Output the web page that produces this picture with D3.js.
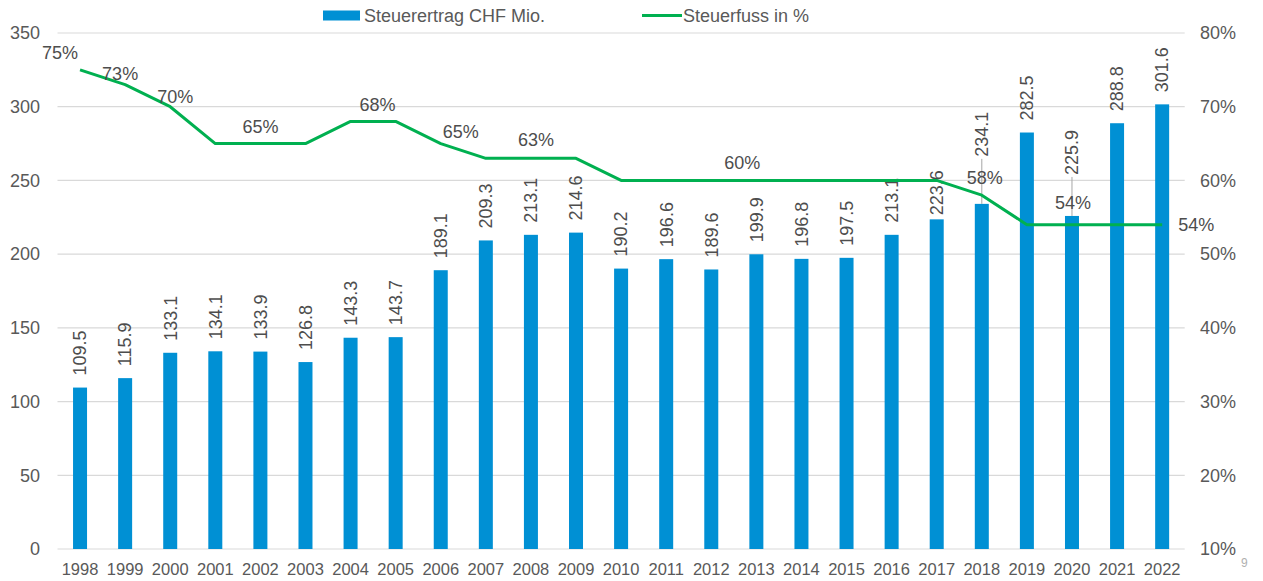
<!DOCTYPE html>
<html>
<head>
<meta charset="utf-8">
<script src="https://cdn.jsdelivr.net/npm/d3@7"></script>
<style>
  html, body { margin: 0; padding: 0; background: #fff; }
  svg { display: block; font-family: "Liberation Sans", Arial, sans-serif; }
</style>
</head>
<body>
<svg id="chart" width="1263" height="581"></svg>
<script>
// ---- data ----
const years = ["1998","1999","2000","2001","2002","2003","2004","2005","2006","2007","2008","2009","2010","2011","2012","2013","2014","2015","2016","2017","2018","2019","2020","2021","2022"];
const ertrag = [109.5,115.9,133.1,134.1,133.9,126.8,143.3,143.7,189.1,209.3,213.1,214.6,190.2,196.6,189.6,199.9,196.8,197.5,213.1,223.6,234.1,282.5,225.9,288.8,301.6];
const steuerfuss = [75,73,70,65,65,65,68,68,65,63,63,63,60,60,60,60,60,60,60,60,58,54,54,54,54];
const leftTicks = [0,50,100,150,200,250,300,350];
const rightTicks = [10,20,30,40,50,60,70,80];
const seriesNames = ["Steuerertrag CHF Mio.", "Steuerfuss in %"];
// which line points carry a label
const labeledYears = ["1998","1999","2000","2002","2004","2006","2008","2013","2018","2020","2022"];

// ---- style / placement ----
const blue = "#0090d4", green = "#00b050", textGrey = "#595959", labelGrey = "#4d4d4d", gridGrey = "#d9d9d9";
const lineLabelOffset = {
  "1998": [-20,-17], "1999": [-5,-11], "2000": [5,-10], "2002": [0,-17],
  "2004": [27,-17], "2006": [20,-12], "2008": [5,-19], "2013": [-14,-18],
  "2018": [3,-17], "2020": [1,-22], "2022": [34,0]
};
const barLabelGap = { "2017": 4, "2018": 47, "2020": 41 };
const leaderYears = ["2018","2020"];

const svg = d3.select("#chart");
const margin = { left: 57.5, right: 1184.7, top: 33, bottom: 549 };

const x = d3.scaleBand().domain(years).range([margin.left, margin.right]).paddingInner(0.69).paddingOuter(0.345);
const yL = d3.scaleLinear().domain([0, 350]).range([margin.bottom, margin.top]);
const yR = d3.scaleLinear().domain([10, 80]).range([margin.bottom, margin.top]);

// gridlines
svg.append("g").selectAll("line").data(leftTicks).join("line")
  .attr("x1", margin.left).attr("x2", margin.right)
  .attr("y1", d => yL(d)).attr("y2", d => yL(d))
  .attr("stroke", gridGrey).attr("stroke-width", 1.2);

// left axis
const axL = svg.append("g").attr("transform", `translate(40,0)`)
  .call(d3.axisLeft(yL).tickValues(leftTicks).tickSize(0).tickPadding(0));
axL.select(".domain").remove();
axL.selectAll("text").attr("font-size", 18).attr("fill", textGrey).attr("font-family", "Liberation Sans, Arial, sans-serif");

// right axis
const axR = svg.append("g").attr("transform", `translate(1200,0)`)
  .call(d3.axisRight(yR).tickValues(rightTicks).tickSize(0).tickPadding(0).tickFormat(d => d + "%"));
axR.select(".domain").remove();
axR.selectAll("text").attr("font-size", 18).attr("fill", textGrey).attr("font-family", "Liberation Sans, Arial, sans-serif");

// bottom axis
const axB = svg.append("g").attr("transform", `translate(0,${margin.bottom})`)
  .call(d3.axisBottom(x).tickSize(0).tickPadding(14));
axB.select(".domain").remove();
axB.selectAll("text").attr("font-size", 16.5).attr("fill", textGrey).attr("font-family", "Liberation Sans, Arial, sans-serif");

// bars
const bw = 14;
svg.append("g").selectAll("rect").data(years).join("rect")
  .attr("x", d => x(d) + x.bandwidth() / 2 - bw / 2)
  .attr("width", bw)
  .attr("y", (d, i) => yL(ertrag[i]))
  .attr("height", (d, i) => yL(0) - yL(ertrag[i]))
  .attr("fill", blue);

// leader lines
svg.append("g").selectAll("line").data(leaderYears).join("line")
  .attr("x1", d => x(d) + x.bandwidth() / 2)
  .attr("x2", d => x(d) + x.bandwidth() / 2)
  .attr("y1", d => yL(ertrag[years.indexOf(d)]) - barLabelGap[d] + 2)
  .attr("y2", d => yL(ertrag[years.indexOf(d)]))
  .attr("stroke", "#a6a6a6").attr("stroke-width", 1);

// bar labels
svg.append("g").selectAll("text").data(years).join("text")
  .attr("transform", (d, i) => {
    const cx = x(d) + x.bandwidth() / 2;
    const gap = barLabelGap[d] !== undefined ? barLabelGap[d] : 12;
    return `translate(${cx},${yL(ertrag[i]) - gap}) rotate(-90)`;
  })
  .attr("dy", "0.35em")
  .attr("text-anchor", "start")
  .attr("font-size", 18).attr("fill", labelGrey)
  .text((d, i) => ertrag[i].toFixed(1));

// line
const line = d3.line()
  .x((d, i) => x(years[i]) + x.bandwidth() / 2)
  .y(d => yR(d));
svg.append("path").datum(steuerfuss)
  .attr("d", line).attr("fill", "none")
  .attr("stroke", green).attr("stroke-width", 3).attr("stroke-linejoin", "round");

// line labels
svg.append("g").selectAll("text").data(labeledYears).join("text")
  .attr("x", d => x(d) + x.bandwidth() / 2 + lineLabelOffset[d][0])
  .attr("y", d => yR(steuerfuss[years.indexOf(d)]) + lineLabelOffset[d][1])
  .attr("dy", "0.35em")
  .attr("text-anchor", "middle")
  .attr("font-size", 18).attr("fill", labelGrey)
  .text(d => steuerfuss[years.indexOf(d)] + "%");

// legend
const leg = svg.append("g");
leg.append("rect").attr("x", 323).attr("y", 10.5).attr("width", 37).attr("height", 10).attr("fill", blue);
leg.append("text").attr("x", 364).attr("y", 21.5).attr("font-size", 18).attr("fill", textGrey).text(seriesNames[0]);
leg.append("line").attr("x1", 642).attr("x2", 682).attr("y1", 15.5).attr("y2", 15.5).attr("stroke", green).attr("stroke-width", 3);
leg.append("text").attr("x", 683).attr("y", 21.5).attr("font-size", 18).attr("fill", textGrey).text(seriesNames[1]);

// page number
svg.append("text").attr("x", 1241).attr("y", 567).attr("font-size", 12).attr("fill", "#b0b0b0").text("9");
</script>
</body>
</html>
